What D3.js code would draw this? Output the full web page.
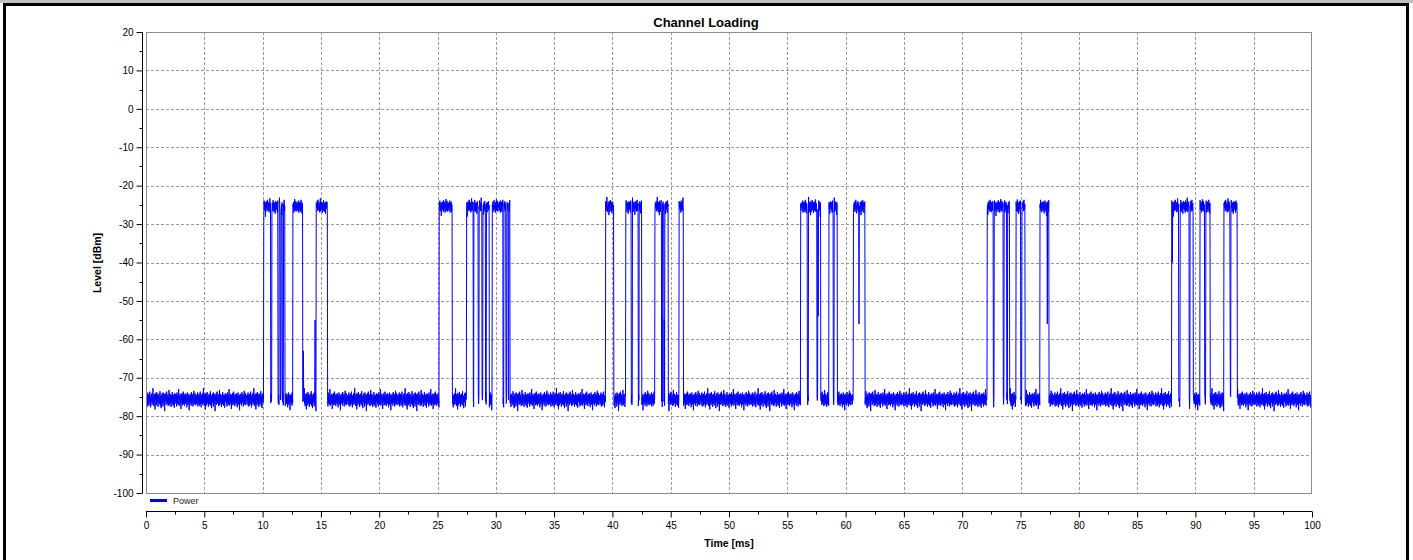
<!DOCTYPE html>
<html><head><meta charset="utf-8">
<script src="https://cdn.jsdelivr.net/npm/d3@7"></script>
<style>html,body{margin:0;padding:0;background:#fff;}svg{display:block;font-family:"Liberation Sans",Arial,sans-serif;}</style>
</head><body><svg id="c" width="1413" height="560"></svg>
<script>
// ---- data ----
const title = "Channel Loading";
const xLabel = "Time [ms]";
const yLabel = "Level [dBm]";
const seriesName = "Power";
const xTicks = [0,5,10,15,20,25,30,35,40,45,50,55,60,65,70,75,80,85,90,95,100];
const yTicks = [20,10,0,-10,-20,-30,-40,-50,-60,-70,-80,-90,-100];
const floorLevel = -75.6;   // dBm, idle channel
const onLevel = -25.4;      // dBm, burst level
// bursts: [start ms, end ms]
const onSegments = [
  [10.12,10.69],[10.78,11.32],[11.42,11.52],[11.6,11.7],[11.78,11.9],[12.58,13.44],[14.58,15.55],
  [25.13,26.27],[27.5,28.05],[28.12,28.48],[28.56,28.8],[28.88,29.1],[29.2,29.45],[29.7,30.6],[30.7,30.85],[30.95,31.05],[31.12,31.22],
  [39.42,40.12],[41.14,41.62],[41.72,42.2],[42.3,42.5],[43.65,44.2],[44.3,44.42],[44.5,44.8],[45.71,46.08],
  [56.15,56.7],[56.82,57.55],[57.62,57.85],[58.57,58.93],[59.02,59.3],[60.66,61.66],
  [72.15,72.65],[72.75,73.5],[73.6,73.8],[73.88,74.05],[74.61,75.02],[75.12,75.39],[76.67,77.44],
  [87.97,88.57],[88.68,89.47],[89.55,89.82],[90.39,90.8],[90.9,91.25],[92.45,92.95],[93.03,93.6]
];
// isolated partial transitions: [ms, dBm]
const glitches = [[13.5,-63],[14.5,-55],[44.25,-54],[44.45,-55],[57.66,-54],[61.15,-56],[77.3,-56],[92.97,-53],[88.02,-40],[10.1,-30]];
// measured ripple around the level (dB), sample by sample
const jitter = [0.4,-1.2,1.1,-0.3,1.6,-1.7,0.2,0.9,-0.8,1.3,-1.5,0.6,-0.1,1.8,-1.1,0.3,-1.9,1.0,0.5,-0.6,1.4,-1.3,0.8,-0.4,2.6,-1.0,0.1,-1.6,1.2,-0.7,0.7,-2.4,1.5,-0.2,0.9,-1.4,0.3,1.7,-0.9,-0.5,1.1,-1.8,0.6,0.0,1.3,-1.2,0.4,-0.6,1.9,-1.5,0.2,0.8,-2.1,1.0,-0.3,1.4,-0.8,0.5,-1.7,1.6,-0.1,0.7,-1.1,1.2,-2.8,0.9,0.3,-0.4,1.5,-1.3,0.1,1.8,-0.7,-1.0,0.6,1.1,-1.6,0.4,-0.2,2.2,-1.4,0.8,-0.9,1.3,-0.5,0.2,-1.8,1.0,0.6,-1.2,1.7,-0.3,0.5,-1.5,1.1,-0.8,0.9,-2.0,0.3,1.4,-0.6,-0.1,1.2,-1.1,0.7,-1.7,1.6,0.0,-0.9,1.0,-1.3,0.4,2.4,-0.4,-1.5,0.8,-0.2,1.3,-1.0,0.5,-2.3,1.1,0.2,-0.7,1.5,-1.4,0.6,-0.5,1.8,-1.2,0.1,0.9,-1.6,1.2,-0.3,0.7,-1.1,1.4,-0.8,0.3,-1.9,1.0,-0.2,1.6,-1.3,0.4,-0.6,1.1,-2.6,0.8,0.5,-1.0,1.3,-0.4,0.2,-1.5,1.7,-0.9,0.6,-0.1,1.2,-1.7,0.9,-0.5,2.0,-1.2,0.3,-0.8,1.5,-1.4,0.7,-0.3,1.0];
const sampleStep = 0.025; // ms

// ---- build trace ----
const trace = [];
const n = Math.round(100/sampleStep);
for (let i=0;i<=n;i++){
  const t = i*sampleStep;
  const on = onSegments.some(s => t>=s[0] && t<=s[1]);
  const j = jitter[i % jitter.length];
  trace.push({t, v: on ? onLevel + j*0.95 : floorLevel + j*1.1});
}
glitches.forEach(g => { const k = Math.round(g[0]/sampleStep); trace[k] = {t:trace[k].t, v:g[1]}; });

// ---- drawing ----
const svg = d3.select("#c");
const L=146, R=1312, T=32, B=493;
const x = d3.scaleLinear().domain([0,100]).range([L,R]);
const y = d3.scaleLinear().domain([-100,20]).range([B,T]);

// frame
svg.append("rect").attr("x",0).attr("y",0).attr("width",1413).attr("height",560).attr("fill","#fff");
svg.append("rect").attr("x",0).attr("y",0).attr("width",1413).attr("height",3).attr("fill","#c0c0c0");
svg.append("rect").attr("x",3).attr("y",3).attr("width",1406).attr("height",3).attr("fill","#000");
svg.append("rect").attr("x",3).attr("y",3).attr("width",3).attr("height",557).attr("fill","#000");
svg.append("rect").attr("x",1406).attr("y",3).attr("width",3).attr("height",557).attr("fill","#000");

// grid
const grid = svg.append("g").attr("stroke","#9a9a9a").attr("stroke-width",1).attr("stroke-dasharray","3,2").attr("shape-rendering","crispEdges");
xTicks.slice(1,-1).forEach(v=>grid.append("line").attr("x1",Math.round(x(v))+0.5).attr("x2",Math.round(x(v))+0.5).attr("y1",T).attr("y2",B));
yTicks.slice(1,-1).forEach(v=>grid.append("line").attr("x1",L).attr("x2",R).attr("y1",Math.round(y(v))+0.5).attr("y2",Math.round(y(v))+0.5));

// trace
svg.append("defs").append("clipPath").attr("id","clip").append("rect").attr("x",L).attr("y",T).attr("width",R-L).attr("height",B-T);
svg.append("path").datum(trace).attr("clip-path","url(#clip)")
  .attr("fill","none").attr("stroke","#0000ff").attr("stroke-width",1)
  .attr("d", d3.line().x(d=>x(d.t)).y(d=>y(d.v)));

// plot border
svg.append("rect").attr("x",L+0.5).attr("y",T+0.5).attr("width",R-L-1).attr("height",B-T).attr("fill","none").attr("stroke","#8c8c8c").attr("shape-rendering","crispEdges");

// y axis
const yAxis = d3.axisLeft(y).tickValues(yTicks).tickSize(6).tickPadding(3).tickFormat(d=>String(d));
const gy = svg.append("g").attr("transform","translate(142.5,0)").call(yAxis);
gy.select(".domain").attr("d",`M0,${T}V${B}`).attr("stroke","#000");
gy.selectAll(".tick text").attr("font-size",10).attr("fill","#000").attr("font-family","'Liberation Sans',Arial,sans-serif");
const yMinor = d3.range(-95,20,10);
gy.selectAll(".minor").data(yMinor).enter().append("line").attr("x1",-3).attr("x2",0).attr("y1",d=>Math.round(y(d))+0.5).attr("y2",d=>Math.round(y(d))+0.5).attr("stroke","#000");

// x axis
const xAxis = d3.axisBottom(x).tickValues(xTicks).tickSize(6).tickPadding(4).tickFormat(d=>String(d));
const gx = svg.append("g").attr("transform","translate(0,511.5)").call(xAxis);
gx.select(".domain").attr("d",`M${L},0H${R}`).attr("stroke","#000");
gx.selectAll(".tick text").attr("font-size",10).attr("fill","#000").attr("font-family","'Liberation Sans',Arial,sans-serif");
const xMinor = d3.range(2.5,100,5);
gx.selectAll(".minor").data(xMinor).enter().append("line").attr("y1",0).attr("y2",3).attr("x1",d=>Math.round(x(d))+0.5).attr("x2",d=>Math.round(x(d))+0.5).attr("stroke","#000");

// titles
svg.append("text").attr("x",706).attr("y",27).attr("text-anchor","middle").attr("font-size",13).attr("font-weight","bold").attr("fill","#000").text(title);
svg.append("text").attr("x",729).attr("y",547).attr("text-anchor","middle").attr("font-size",10.5).attr("font-weight","bold").attr("fill","#000").text(xLabel);
svg.append("text").attr("transform","translate(101,263) rotate(-90)").attr("text-anchor","middle").attr("font-size",10.5).attr("font-weight","bold").attr("fill","#000").text(yLabel);

// legend
svg.append("line").attr("x1",150).attr("x2",167).attr("y1",500.5).attr("y2",500.5).attr("stroke","#0000ff").attr("stroke-width",3);
svg.append("text").attr("x",173).attr("y",503.5).attr("font-size",9).attr("fill","#222").text(seriesName);
</script></body></html>
